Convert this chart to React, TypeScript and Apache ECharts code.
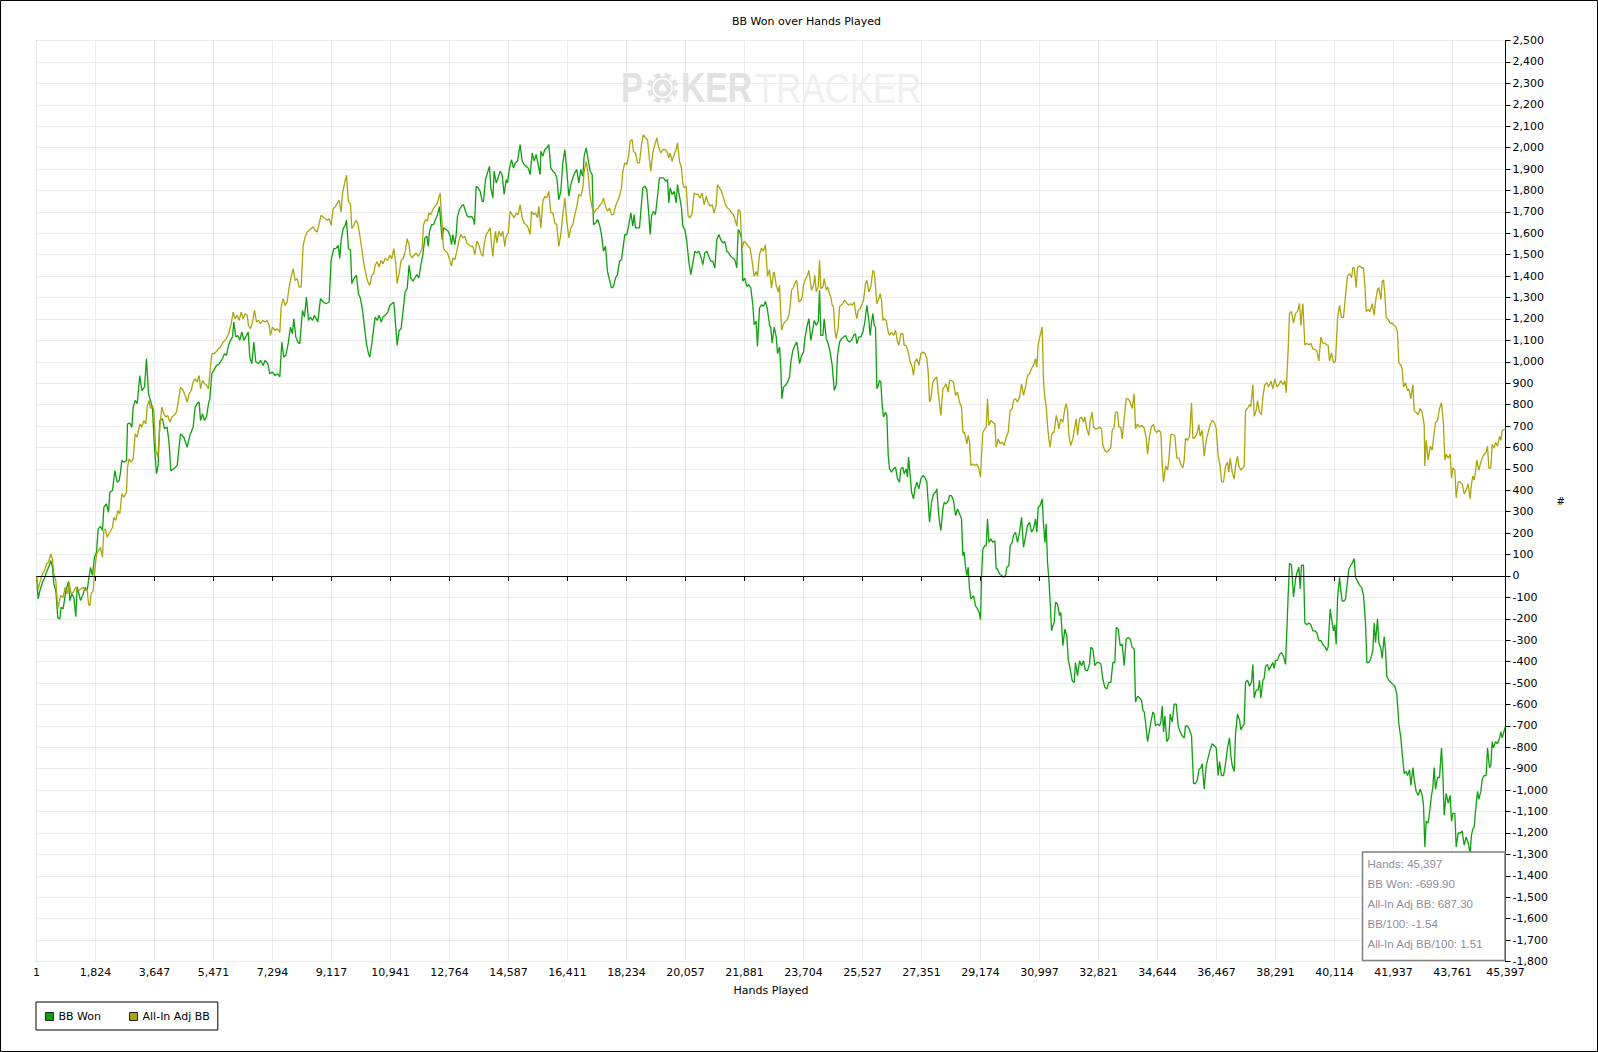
import React, { useEffect, useRef } from "react";
import * as echarts from "echarts";

const TITLE = "BB Won over Hands Played";
const X_NAME = "Hands Played";
const Y_NAME = "#";
const SERIES_NAMES = ["BB Won", "All-In Adj BB"];
const SERIES_COLORS = ["#0f9f0f", "#aaa60e"];
const HAND_TICKS = [1, 1824, 3647, 5471, 7294, 9117, 10941, 12764, 14587, 16411, 18234, 20057, 21881, 23704, 25527, 27351, 29174, 30997, 32821, 34644, 36467, 38291, 40114, 41937, 43761, 45397];
const Y_MIN = -1800;
const Y_MAX = 2500;
const Y_STEP = 100;
const SUMMARY_LINES = ["Hands: 45,397", "BB Won: -699.90", "All-In Adj BB: 687.30", "BB/100: -1.54", "All-In Adj BB/100: 1.51"];

// [hands, BB won]
const BB_WON: [number, number][] = [
[1,0],[52,-107],[104,-69],[186,-30],[258,-6],[310,17],[392,48],[444,72],[495,40],[537,-37],[598,-69],[660,-196],[722,-201],[763,-146],[825,-154],[907,-69],[990,-25],[1031,-115],[1093,-84],[1155,-100],[1216,-190],[1258,-50],[1361,-115],[1443,-84],[1505,-53],[1567,-69],[1608,-22],[1670,40],[1731,2],[1793,87],[1855,111],[1906,220],[1979,231],[2040,212],[2082,321],[2164,336],[2226,297],[2267,391],[2349,399],[2422,492],[2494,438],[2555,446],[2597,485],[2638,539],[2710,531],[2782,539],[2813,710],[2885,714],[2947,695],[2988,788],[3050,820],[3112,804],[3194,936],[3256,866],[3338,882],[3400,1014],[3462,851],[3524,820],[3585,781],[3647,601],[3709,477],[3760,516],[3812,726],[3894,734],[3956,687],[4038,695],[4100,617],[4152,492],[4244,500],[4348,516],[4451,664],[4554,648],[4657,601],[4739,656],[4842,695],[4904,788],[4976,807],[5027,812],[5069,726],[5130,757],[5192,726],[5254,742],[5316,804],[5357,827],[5419,944],[5481,960],[5563,983],[5625,988],[5687,999],[5748,1014],[5810,1038],[5872,1030],[5934,1077],[5996,1100],[6057,1116],[6098,1186],[6160,1116],[6222,1123],[6284,1100],[6346,1139],[6408,1100],[6490,1123],[6542,1139],[6593,1022],[6655,991],[6717,1092],[6779,999],[6861,991],[6923,1007],[7005,983],[7067,1007],[7149,991],[7211,944],[7293,952],[7375,936],[7458,944],[7520,929],[7581,1092],[7643,1022],[7705,1030],[7777,1084],[7850,1162],[7911,1131],[7952,1201],[8014,1116],[8076,1092],[8138,1084],[8220,1240],[8282,1209],[8344,1302],[8406,1193],[8468,1209],[8530,1193],[8591,1217],[8694,1186],[8777,1295],[8859,1279],[8941,1271],[9044,1279],[9106,1474],[9188,1528],[9250,1528],[9322,1544],[9374,1482],[9415,1567],[9477,1622],[9539,1637],[9580,1661],[9642,1528],[9704,1521],[9745,1365],[9807,1388],[9889,1404],[9951,1318],[10013,1295],[10075,1240],[10136,1162],[10198,1084],[10260,1038],[10301,1022],[10363,1084],[10425,1162],[10466,1209],[10528,1193],[10590,1217],[10652,1186],[10713,1209],[10775,1217],[10858,1232],[10919,1263],[10981,1271],[11043,1279],[11104,1162],[11146,1077],[11207,1146],[11269,1154],[11331,1240],[11393,1326],[11455,1341],[11516,1451],
[11569,1391],[11631,1376],[11693,1391],[11754,1407],[11816,1391],[11878,1453],[11940,1500],[12002,1578],[12063,1586],[12105,1539],[12146,1609],[12208,1640],[12269,1640],[12331,1664],[12393,1687],[12455,1726],[12496,1640],[12537,1570],[12578,1625],[12661,1617],[12723,1609],[12784,1586],[12826,1547],[12867,1594],[12929,1547],[12970,1594],[13011,1679],[13073,1711],[13135,1726],[13196,1734],[13258,1703],[13320,1679],[13382,1675],[13444,1679],[13505,1664],[13536,1640],[13588,1820],[13650,1812],[13711,1796],[13773,1749],[13814,1749],[13876,1851],[13938,1882],[14000,1913],[14041,1812],[14103,1765],[14144,1890],[14206,1835],[14268,1859],[14329,1890],[14391,1874],[14453,1781],[14515,1851],[14556,1835],[14618,1905],[14680,1944],[14741,1905],[14803,1929],[14865,1937],[14947,2014],[15009,1937],[15071,1921],[15133,1913],[15195,1905],[15256,1874],[15318,1975],[15380,1937],[15442,1968],[15504,1921],[15565,1874],[15586,1983],[15648,1960],[15710,1991],[15771,1999],[15833,2014],[15895,1905],[15957,1890],[16019,1882],[16080,1859],[16142,1757],[16204,1796],[16266,1929],[16328,1991],[16389,1890],[16451,1773],[16513,1827],[16575,1859],[16637,1882],[16698,1897],[16760,1835],[16822,1897],[16884,1866],[16925,1960],[16987,1999],[17049,1944],[17110,1890],[17172,1874],[17213,1640],[17275,1648],[17337,1664],[17399,1640],[17461,1594],[17522,1516],[17584,1539],[17646,1422],[17708,1383],[17770,1344],[17831,1352],[17893,1391],[17955,1407],[18017,1469],[18079,1477],[18140,1547],[18182,1594],[18243,1594],[18305,1640],[18367,1695],[18429,1633],[18470,1687],[18511,1625],[18573,1625],[18635,1625],[18676,1703],[18738,1812],[18800,1820],[18861,1804],[18923,1687],[18964,1594],[19006,1679],[19067,1703],[19129,1687],[19191,1773],[19253,1859],[19315,1859],[19376,1859],[19438,1843],[19500,1851],[19541,1742],[19582,1812],[19644,1781],[19706,1796],[19768,1742],[19809,1827],[19871,1773],[19933,1718],[19974,1633],[20036,1617],[20097,1562],[20159,1469],[20221,1407],[20283,1461],[20345,1516],[20406,1508],[20468,1516],[20530,1492],[20592,1453],[20654,1508],[20715,1516],[20777,1492],[20839,1469],[20901,1469],[20963,1438],[21024,1570],[21086,1594],[21148,1570],[21210,1555],[21272,1562],[21333,1516],[21395,1508],[21457,1492],[21519,1485],[21581,1477],[21642,1438],[21684,1617],[21725,1609],[21787,1578],[21828,1376],[21890,1391],[21951,1352],[22013,1360],[22075,1344],[22137,1266],[22178,1173],[22240,1189],[22281,1072],[22343,1251],[22405,1266],[22466,1259],[22528,1282],[22590,1243],[22652,1173],[22693,1157],[22734,1087],
[22798,1162],[22860,1116],[22901,1038],[22963,1069],[23004,968],[23035,827],[23086,882],[23148,890],[23210,905],[23272,929],[23313,999],[23375,1053],[23437,1077],[23498,1092],[23540,1045],[23581,991],[23643,1030],[23704,1045],[23746,1108],[23807,1162],[23869,1201],[23931,1100],[23993,1154],[24034,1193],[24096,1170],[24158,1186],[24199,1334],[24240,1123],[24302,1123],[24343,1201],[24405,1108],[24467,1084],[24528,1045],[24590,983],[24652,866],[24714,890],[24755,1030],[24817,1092],[24879,1108],[24940,1116],[25002,1123],[25064,1100],[25126,1092],[25188,1100],[25249,1123],[25311,1131],[25352,1084],[25414,1116],[25476,1116],[25538,1139],[25600,1186],[25661,1264],[25723,1193],[25764,1123],[25806,1186],[25847,1225],[25888,1170],[25929,1162],[25970,874],[26012,890],[26053,913],[26094,905],[26135,796],[26176,742],[26238,765],[26279,749],[26321,562],[26362,500],[26424,485],[26485,500],[26547,508],[26609,453],[26671,438],[26712,500],[26774,508],[26815,477],[26877,500],[26918,461],[26949,555],[27000,469],[27042,391],[27103,360],[27145,407],[27206,438],[27268,407],[27330,453],[27392,469],[27454,461],[27515,438],[27557,344],[27598,251],[27660,344],[27721,383],[27783,391],[27824,407],[27866,313],[27907,251],[27948,212],[28010,313],[28051,344],[28113,336],[28175,352],[28216,375],[28278,375],[28339,352],[28401,282],[28463,313],[28525,290],[28587,266],[28628,95],[28669,111],[28710,41],[28751,2],[28793,41],[28834,-61],[28875,-107],[28916,-100],[28957,-92],[29019,-139],[29081,-154],[29133,-170],[29174,-204],[29205,2],[29246,126],[29308,142],[29349,142],[29390,266],[29431,157],[29493,173],[29555,157],[29617,165],[29658,33],[29699,33],[29761,9],[29823,2],[29884,-6],[29946,2],[29987,41],[30049,48],[30090,142],[30152,157],[30193,189],[30255,204],[30317,157],[30379,204],[30441,274],[30502,134],[30564,181],[30626,235],[30688,251],[30750,204],[30811,220],[30873,266],[30914,204],[30956,321],[31017,329],[31079,360],[31120,243],[31162,157],[31203,243],[31244,64],[31285,-14],[31326,-123],[31368,-256],[31409,-232],[31450,-217],[31491,-123],[31553,-131],[31615,-185],[31656,-170],[31718,-326],[31780,-248],[31841,-279],[31883,-388],[31944,-435],[32006,-489],[32068,-497],[32109,-404],[32171,-466],[32233,-396],[32295,-419],[32356,-396],[32418,-442],[32480,-442],[32542,-411],[32583,-333],[32645,-341],[32707,-419],[32768,-404],[32830,-404],[32892,-411],[32954,-481],[33016,-520],[33077,-528],[33139,-497],[33201,-497],[33263,-404],[33325,-404],[33366,-240],[33428,-248],[33489,-326],[33551,-318],[33613,-419],[33675,-294],[33737,-287],[33798,-294],[33860,-333],[33922,-341],
[33964,-589],[34026,-561],[34088,-570],[34149,-580],[34191,-626],[34232,-635],[34273,-682],[34335,-774],[34376,-737],[34438,-682],[34500,-635],[34541,-645],[34582,-700],[34644,-691],[34706,-700],[34747,-682],[34788,-607],[34829,-728],[34870,-654],[34932,-774],[34994,-756],[35035,-645],[35097,-682],[35159,-598],[35221,-598],[35282,-700],[35344,-728],[35406,-746],[35468,-756],[35509,-700],[35571,-700],[35633,-719],[35694,-746],[35756,-969],[35818,-969],[35880,-950],[35921,-904],[35983,-895],[36024,-876],[36086,-996],[36148,-885],[36209,-848],[36271,-811],[36333,-783],[36395,-793],[36457,-802],[36518,-932],[36560,-867],[36621,-932],[36683,-932],[36745,-876],[36807,-802],[36869,-756],[36910,-839],[36951,-885],[37013,-913],[37054,-737],[37116,-645],[37178,-672],[37219,-719],[37281,-700],[37322,-691],[37363,-496],[37425,-487],[37487,-515],[37548,-496],[37590,-413],[37631,-570],[37693,-533],[37754,-533],[37796,-487],[37837,-570],[37899,-487],[37940,-478],[37981,-422],[38043,-413],[38084,-441],[38146,-422],[38208,-404],[38249,-432],[38290,-394],[38352,-394],[38414,-367],[38475,-357],[38537,-376],[38599,-413],[38640,-256],[38681,-89],[38723,59],[38784,50],[38846,-98],[38908,-15],[38949,13],[39011,41],[39052,-61],[39093,50],[39155,50],[39196,-219],[39258,-228],[39320,-219],[39382,-228],[39444,-256],[39505,-256],[39567,-265],[39629,-302],[39691,-302],[39753,-320],[39814,-330],[39876,-348],[39917,-330],[39979,-154],[40020,-200],[40082,-256],[40123,-228],[40165,-320],[40206,-107],[40268,-6],[40309,-70],[40350,-117],[40412,-117],[40453,-107],[40515,-24],[40556,31],[40618,50],[40659,59],[40721,81],[40762,-6],[40824,-24],[40886,-43],[40947,-52],[41009,-89],[41071,-219],[41112,-404],[41174,-404],[41236,-385],[41298,-348],[41339,-219],[41380,-311],[41442,-200],[41483,-311],[41545,-339],[41586,-385],[41648,-283],[41689,-348],[41730,-469],[41792,-487],[41854,-496],[41916,-506],[41977,-515],[42039,-552],[42101,-691],[42163,-756],[42204,-830],[42266,-922],[42328,-913],[42369,-932],[42431,-904],[42472,-978],[42534,-895],[42575,-950],[42637,-1006],[42698,-1024],[42760,-996],[42822,-1024],[42863,-1070],[42904,-1265],[42946,-1145],[43007,-1154],[43069,-1080],[43110,-1024],[43152,-987],[43193,-895],[43234,-996],[43296,-941],[43358,-941],[43419,-802],[43461,-922],[43502,-1117],[43564,-1015],[43625,-1061],[43687,-1024],[43728,-1145],[43770,-1108],[43831,-1108],[43873,-1265],[43934,-1200],[43996,-1200],[44058,-1191],[44120,-1256],[44182,-1219],[44243,-1246],[44305,-1293],[44346,-1209],[44388,-1182],[44429,-1172],[44470,-1098],[44532,-1006],[44573,-1043],[44635,-1006],[44676,-950],[44738,-932],[44800,-932],[44841,-802],[44903,-895],[44944,-885],[44985,-774],[45026,-802],[45088,-774],[45150,-783],[45212,-756],[45253,-728],[45294,-756],[45397,-699.9]
];

// [hands, all-in adjusted BB]
const ALL_IN_ADJ_BB: [number, number][] = [
[1,0],[52,-61],[104,-30],[186,9],[248,25],[310,56],[372,64],[444,103],[495,79],[537,9],[598,-22],[660,-154],[743,-92],[825,-100],[887,-53],[949,-84],[1010,-30],[1072,-84],[1134,-76],[1216,-53],[1299,-69],[1361,-61],[1443,-53],[1505,-69],[1567,-61],[1608,-131],[1649,-139],[1690,-84],[1752,-69],[1793,9],[1855,103],[1917,118],[1979,134],[2040,87],[2082,212],[2123,220],[2185,181],[2267,204],[2349,227],[2391,274],[2452,259],[2514,305],[2576,290],[2638,383],[2700,368],[2782,391],[2813,508],[2864,547],[2926,531],[2988,547],[3050,664],[3112,648],[3194,710],[3256,695],[3318,726],[3379,710],[3421,788],[3482,820],[3524,781],[3585,796],[3627,773],[3688,586],[3750,555],[3812,695],[3874,788],[3936,757],[3997,742],[4059,749],[4121,718],[4183,742],[4245,749],[4327,765],[4389,820],[4451,882],[4533,866],[4595,843],[4657,812],[4718,851],[4780,866],[4842,905],[4904,921],[4966,905],[5027,936],[5069,874],[5130,913],[5192,898],[5254,890],[5316,874],[5357,944],[5419,1038],[5481,1038],[5543,1045],[5625,1061],[5687,1069],[5769,1092],[5831,1100],[5893,1116],[5954,1139],[6016,1178],[6078,1232],[6140,1201],[6202,1217],[6263,1193],[6325,1232],[6387,1201],[6449,1224],[6511,1217],[6552,1170],[6614,1154],[6675,1186],[6737,1240],[6799,1186],[6861,1193],[6923,1178],[7005,1193],[7067,1186],[7129,1193],[7190,1170],[7232,1123],[7293,1162],[7375,1146],[7437,1154],[7520,1139],[7561,1255],[7623,1295],[7685,1263],[7747,1279],[7808,1349],[7870,1396],[7932,1435],[7994,1380],[8056,1388],[8117,1349],[8179,1349],[8241,1544],[8303,1583],[8365,1606],[8426,1614],[8488,1622],[8550,1630],[8612,1614],[8674,1606],[8735,1645],[8797,1684],[8859,1676],[8921,1668],[8983,1661],[9044,1668],[9106,1637],[9168,1715],[9230,1723],[9292,1739],[9353,1754],[9415,1699],[9456,1785],[9518,1832],[9580,1871],[9642,1746],[9704,1739],[9745,1622],[9807,1637],[9869,1661],[9931,1645],[9992,1590],[10054,1528],[10116,1458],[10198,1396],[10260,1365],[10301,1357],[10363,1404],[10425,1412],[10466,1451],[10528,1466],[10590,1443],[10652,1474],[10713,1458],[10775,1482],[10858,1474],[10919,1497],[10981,1482],[11043,1528],[11104,1458],[11146,1365],[11207,1412],[11269,1474],[11331,1482],[11393,1513],[11455,1575],[11516,1544],
[11548,1500],[11610,1485],[11672,1500],[11734,1508],[11796,1492],[11857,1508],[11919,1531],[11960,1640],[12022,1664],[12084,1656],[12125,1695],[12187,1687],[12249,1711],[12311,1726],[12372,1734],[12414,1757],[12475,1788],[12517,1687],[12578,1531],[12640,1516],[12702,1508],[12764,1477],[12826,1446],[12867,1485],[12929,1477],[12990,1516],[13052,1563],[13114,1594],[13176,1578],[13238,1586],[13299,1555],[13361,1547],[13423,1539],[13485,1539],[13547,1500],[13608,1563],[13670,1547],[13732,1508],[13794,1492],[13835,1547],[13897,1594],[13959,1609],[14020,1625],[14062,1547],[14103,1492],[14144,1563],[14185,1609],[14226,1555],[14288,1609],[14350,1586],[14412,1609],[14474,1539],[14515,1586],[14577,1601],[14638,1703],[14700,1687],[14762,1672],[14824,1695],[14886,1687],[14947,1734],[15009,1672],[15071,1648],[15133,1640],[15195,1625],[15256,1594],[15298,1703],[15359,1687],[15421,1695],[15483,1672],[15524,1726],[15586,1625],[15648,1749],[15710,1773],[15771,1765],[15833,1796],[15895,1695],[15957,1695],[16019,1648],[16080,1640],[16142,1539],[16204,1594],[16266,1687],[16328,1765],[16389,1656],[16451,1578],[16513,1625],[16575,1640],[16637,1687],[16698,1726],[16760,1781],[16822,1773],[16884,1812],[16925,1890],[16987,1936],[17049,1874],[17110,1773],[17172,1718],[17234,1695],[17296,1711],[17358,1718],[17419,1734],[17481,1742],[17522,1765],[17584,1726],[17646,1703],[17708,1718],[17770,1687],[17831,1687],[17893,1726],[17955,1749],[18017,1773],[18079,1812],[18120,1890],[18182,1929],[18243,1921],[18305,1968],[18346,2030],[18408,2038],[18449,1983],[18511,1975],[18573,1929],[18635,1929],[18697,2014],[18758,2061],[18820,2045],[18882,2038],[18944,1944],[18985,1890],[19047,1975],[19109,2014],[19170,2045],[19232,1999],[19294,1975],[19356,1991],[19418,1991],[19479,1983],[19541,1952],[19582,1975],[19644,1936],[19706,1968],[19768,1991],[19809,2022],[19871,1936],[19933,1905],[19974,1835],[20015,1812],[20077,1820],[20139,1679],[20200,1672],[20262,1695],[20324,1788],[20386,1781],[20448,1781],[20509,1765],[20571,1788],[20633,1734],[20695,1773],[20757,1742],[20818,1726],[20880,1734],[20942,1695],[21004,1734],[21045,1827],[21107,1812],[21169,1796],[21230,1765],[21292,1734],[21354,1718],[21416,1711],[21478,1695],[21539,1687],[21601,1656],[21642,1633],[21684,1711],[21745,1703],[21807,1531],[21869,1563],[21931,1555],[21993,1539],[22054,1531],[22116,1469],[22178,1399],[22240,1422],[22281,1399],[22343,1500],[22405,1531],[22466,1516],[22528,1547],[22590,1399],[22652,1430],[22714,1344],[22775,1415],
[22798,1419],[22860,1357],[22922,1326],[22963,1357],[23025,1147],[23066,1170],[23128,1186],[23189,1193],[23251,1217],[23292,1264],[23334,1334],[23395,1349],[23457,1373],[23498,1380],[23560,1279],[23622,1287],[23663,1302],[23704,1357],[23766,1388],[23828,1404],[23869,1427],[23910,1380],[23952,1334],[24013,1357],[24055,1404],[24096,1326],[24158,1349],[24199,1474],[24240,1341],[24302,1349],[24343,1388],[24405,1334],[24446,1349],[24508,1318],[24549,1302],[24590,1264],[24631,1256],[24673,1147],[24714,1108],[24776,1162],[24817,1256],[24858,1264],[24920,1271],[24961,1287],[25023,1279],[25085,1264],[25146,1271],[25208,1264],[25270,1279],[25311,1232],[25352,1201],[25394,1240],[25455,1248],[25497,1264],[25558,1287],[25620,1365],[25661,1380],[25723,1326],[25785,1349],[25847,1427],[25888,1419],[25929,1349],[25970,1271],[26032,1295],[26073,1318],[26115,1287],[26156,1193],[26197,1201],[26259,1193],[26321,1139],[26362,1123],[26424,1139],[26485,1123],[26547,1147],[26609,1092],[26650,1077],[26712,1131],[26774,1131],[26815,1077],[26877,1077],[26939,1045],[27000,999],[27062,975],[27103,936],[27145,999],[27206,1014],[27268,983],[27330,1038],[27392,1045],[27454,1038],[27515,1014],[27557,952],[27598,812],[27639,827],[27701,905],[27763,921],[27824,929],[27866,858],[27907,804],[27948,749],[28010,874],[28051,882],[28113,897],[28175,858],[28216,913],[28278,913],[28339,905],[28401,843],[28463,858],[28525,812],[28587,788],[28628,671],[28669,671],[28710,648],[28751,617],[28793,656],[28834,625],[28875,516],[28937,523],[28999,516],[29060,523],[29122,500],[29174,461],[29205,562],[29246,671],[29308,687],[29349,695],[29390,827],[29431,703],[29493,726],[29555,718],[29617,710],[29658,601],[29720,640],[29781,617],[29843,625],[29905,609],[29967,648],[30029,671],[30090,773],[30152,781],[30193,820],[30255,827],[30317,812],[30379,835],[30441,897],[30502,843],[30564,882],[30626,936],[30688,944],[30750,968],[30811,983],[30873,1014],[30914,975],[30956,1084],[31017,1123],[31079,1162],[31120,913],[31162,827],[31203,796],[31244,703],[31285,640],[31326,601],[31368,656],[31409,671],[31450,671],[31512,749],[31553,726],[31594,687],[31656,734],[31718,718],[31780,781],[31821,804],[31862,773],[31903,656],[31965,609],[32027,640],[32068,679],[32130,734],[32171,656],[32233,734],[32295,742],[32356,718],[32398,742],[32459,687],[32521,656],[32562,726],[32624,765],[32665,695],[32727,687],[32789,687],[32851,695],[32913,687],[32954,609],[33016,586],[33077,578],[33139,586],[33201,601],[33242,679],[33304,695],[33345,765],[33407,765],[33448,695],[33510,695],[33551,640],[33613,734],[33675,827],[33737,827],[33798,812],[33860,781],[33922,851],[33963,687],[34025,710],[34087,695],[34149,703],[34210,695],
[34232,689],[34294,643],[34335,569],[34397,652],[34458,698],[34520,707],[34561,680],[34623,670],[34685,680],[34747,670],[34788,522],[34829,439],[34891,513],[34953,494],[34994,541],[35056,661],[35118,661],[35179,652],[35241,550],[35303,550],[35365,522],[35427,504],[35468,541],[35509,643],[35571,633],[35633,652],[35694,809],[35736,643],[35777,643],[35859,661],[35921,707],[35962,652],[36024,680],[36086,559],[36148,633],[36209,670],[36271,707],[36333,726],[36395,717],[36457,689],[36518,559],[36580,513],[36621,439],[36683,439],[36745,513],[36807,531],[36848,485],[36889,550],[36951,485],[37013,452],[37054,513],[37116,559],[37157,513],[37219,494],[37281,504],[37322,513],[37363,772],[37425,782],[37487,800],[37528,791],[37590,893],[37631,745],[37693,772],[37734,819],[37796,763],[37857,754],[37899,837],[37960,893],[38022,902],[38084,883],[38146,911],[38208,874],[38269,920],[38331,883],[38393,893],[38455,911],[38517,893],[38578,911],[38620,856],[38681,1059],[38723,1226],[38784,1235],[38846,1180],[38908,1226],[38970,1235],[39032,1272],[39073,1170],[39135,1272],[39196,1078],[39258,1087],[39320,1078],[39382,1087],[39444,1059],[39505,1059],[39567,1050],[39629,1004],[39691,1115],[39753,1087],[39814,1087],[39876,1078],[39917,1078],[39959,1004],[40020,1041],[40082,995],[40144,1004],[40206,1198],[40268,1263],[40329,1207],[40391,1207],[40453,1309],[40515,1402],[40577,1411],[40638,1393],[40680,1439],[40721,1439],[40783,1346],[40824,1439],[40886,1448],[40947,1439],[41009,1439],[41050,1356],[41092,1235],[41153,1244],[41215,1235],[41277,1272],[41339,1217],[41380,1281],[41442,1337],[41483,1346],[41545,1291],[41586,1374],[41627,1383],[41668,1319],[41710,1207],[41771,1198],[41833,1180],[41895,1180],[41957,1170],[42019,1161],[42060,1133],[42101,995],[42163,985],[42204,967],[42245,883],[42307,902],[42369,865],[42410,874],[42472,828],[42534,893],[42575,772],[42637,763],[42698,754],[42760,782],[42822,763],[42884,707],[42904,513],[42946,633],[43007,541],[43069,606],[43131,587],[43193,670],[43234,717],[43296,726],[43358,782],[43419,809],[43481,707],[43522,541],[43564,569],[43625,550],[43687,569],[43728,457],[43770,504],[43831,494],[43873,365],[43934,439],[43996,439],[44058,430],[44120,383],[44182,402],[44243,430],[44305,359],[44346,430],[44388,467],[44429,448],[44470,485],[44511,541],[44573,494],[44635,531],[44676,550],[44738,569],[44800,578],[44841,606],[44882,504],[44944,504],[44985,615],[45047,596],[45088,624],[45150,606],[45212,652],[45253,633],[45294,680],[45397,687.3]
];

const FONT = "DejaVu Sans";
const fmt = (v: number) => Math.round(v).toLocaleString("en-US");

export default function App() {
  const ref = useRef<HTMLDivElement>(null);

  useEffect(() => {
    if (!ref.current) return;
    const chart = echarts.init(ref.current, null, { renderer: "svg" });

    const summary = SUMMARY_LINES.map((t, i) => ({
      type: "text",
      x: 1367.5,
      y: 863.5 + i * 20.2,
      z: 101,
      silent: true,
      style: {
        text: t,
        fill: "#918b9c",
        fontSize: 11.5,
        fontFamily: "Liberation Sans",
        verticalAlign: "middle",
        align: "left",
      },
    }));

    const wm = "#e2e2e2";
    const notches = [0, 45, 90, 135, 180, 225, 270, 315].map((deg) => ({
      type: "rect",
      x: 662.5,
      y: 88,
      rotation: (deg * Math.PI) / 180,
      z: 2,
      silent: true,
      shape: { x: -2.2, y: -16, width: 4.4, height: 4.5 },
      style: { fill: "#ffffff" },
    }));

    chart.setOption({
      animation: false,
      backgroundColor: "#ffffff",
      textStyle: { fontFamily: FONT },
      title: {
        text: TITLE,
        left: 732,
        top: 16,
        padding: 0,
        textStyle: { fontSize: 11, fontWeight: "normal", color: "#000", fontFamily: FONT },
      },
      grid: {
        left: 36.5,
        right: 92.5,
        top: 40.5,
        bottom: 90.5,
        show: true,
        borderColor: "#000",
        borderWidth: 1,
        backgroundColor: "transparent",
        containLabel: false,
        outerBoundsMode: "none",
      },
      legend: {
        left: 36,
        top: 1002,
        orient: "horizontal",
        padding: [9, 8, 8, 9],
        itemWidth: 8,
        itemHeight: 8,
        itemGap: 28,
        icon: "rect",
        borderColor: "#000",
        borderWidth: 1,
        backgroundColor: "#fff",
        borderRadius: 0,
        selectedMode: false,
        itemStyle: { borderColor: "#222", borderWidth: 1 },
        textStyle: { fontSize: 11, color: "#000", fontFamily: FONT, padding: [0, 0, 0, 0] },
        data: SERIES_NAMES,
      },
      xAxis: {
        type: "value",
        min: HAND_TICKS[0],
        max: HAND_TICKS[HAND_TICKS.length - 1],
        name: X_NAME,
        nameLocation: "middle",
        nameGap: 23,
        nameTextStyle: { fontSize: 11, color: "#000", fontFamily: FONT },
        axisLine: { show: true, lineStyle: { color: "#000", width: 1 } },
        axisTick: { show: true, length: 5, customValues: HAND_TICKS, lineStyle: { color: "#000" } },
        axisLabel: {
          show: true,
          customValues: HAND_TICKS,
          margin: 5,
          color: "#000",
          fontSize: 11,
          fontFamily: FONT,
          formatter: (v: number) => fmt(v),
        },
        splitLine: { show: true, lineStyle: { color: "#ececec", width: 1 } },
      },
      yAxis: {
        type: "value",
        position: "right",
        min: Y_MIN,
        max: Y_MAX,
        interval: Y_STEP,
        name: Y_NAME,
        nameLocation: "middle",
        nameGap: 51,
        nameRotate: 0,
        nameTextStyle: { fontSize: 10, color: "#000", fontFamily: FONT },
        axisLine: { show: true, lineStyle: { color: "#000", width: 1 } },
        axisTick: { show: true, length: 5, lineStyle: { color: "#000" } },
        axisLabel: {
          show: true,
          margin: 7,
          color: "#000",
          fontSize: 11,
          fontFamily: FONT,
          formatter: (v: number) => fmt(v),
        },
        splitLine: { show: true, lineStyle: { color: "#ececec", width: 1 } },
      },
      series: [
        {
          name: SERIES_NAMES[0],
          type: "line",
          data: BB_WON,
          showSymbol: false,
          symbol: "none",
          color: SERIES_COLORS[0],
          itemStyle: { color: SERIES_COLORS[0] },
          lineStyle: { color: SERIES_COLORS[0], width: 1.3 },
          silent: true,
          z: 3,
          markLine: {
            silent: true,
            symbol: ["none", "none"],
            label: { show: false },
            lineStyle: { color: "#000", width: 1, type: "solid" },
            data: [{ yAxis: 0 }],
          },
        },
        {
          name: SERIES_NAMES[1],
          type: "line",
          data: ALL_IN_ADJ_BB,
          showSymbol: false,
          symbol: "none",
          color: SERIES_COLORS[1],
          itemStyle: { color: SERIES_COLORS[1] },
          lineStyle: { color: SERIES_COLORS[1], width: 1.3 },
          silent: true,
          z: 4,
        },
      ],
      graphic: [
        {
          type: "rect",
          z: 0,
          silent: true,
          shape: { x: 0.5, y: 0.5, width: 1597, height: 1051 },
          style: { fill: "none", stroke: "#000", lineWidth: 1 },
        },
        {
          type: "text",
          x: 621,
          y: 88,
          scaleX: 0.78,
          z: 1,
          silent: true,
          style: { text: "P", fill: wm, fontSize: 42, fontWeight: "bold", fontFamily: "Liberation Sans", verticalAlign: "middle" },
        },
        {
          type: "circle",
          z: 1,
          silent: true,
          shape: { cx: 662.5, cy: 88, r: 15.5 },
          style: { fill: wm },
        },
        ...notches,
        {
          type: "circle",
          z: 3,
          silent: true,
          shape: { cx: 662.5, cy: 88, r: 9.5 },
          style: { fill: wm, stroke: "#ffffff", lineWidth: 1.5 },
        },
        {
          type: "text",
          x: 662.5,
          y: 88.5,
          z: 4,
          silent: true,
          style: { text: "\u2660", fill: "#ffffff", fontSize: 13, fontFamily: FONT, align: "center", verticalAlign: "middle" },
        },
        {
          type: "text",
          x: 681,
          y: 88,
          scaleX: 0.8,
          z: 1,
          silent: true,
          style: { text: "KER", fill: wm, fontSize: 42, fontWeight: "bold", fontFamily: "Liberation Sans", verticalAlign: "middle" },
        },
        {
          type: "text",
          x: 755,
          y: 88,
          scaleX: 0.83,
          z: 1,
          silent: true,
          style: { text: "TRACKER", fill: "#efefef", fontSize: 42, fontFamily: "Liberation Sans", verticalAlign: "middle" },
        },
        {
          type: "rect",
          z: 100,
          silent: true,
          shape: { x: 1362.5, y: 852, width: 142.5, height: 108.5 },
          style: { fill: "#ffffff", stroke: "#808080", lineWidth: 1.5 },
        },
        ...summary,
      ],
    });

    return () => chart.dispose();
  }, []);

  return (
    <div
      ref={ref}
      style={{ position: "fixed", left: 0, top: 0, width: 1598, height: 1052, background: "#fff" }}
    />
  );
}
